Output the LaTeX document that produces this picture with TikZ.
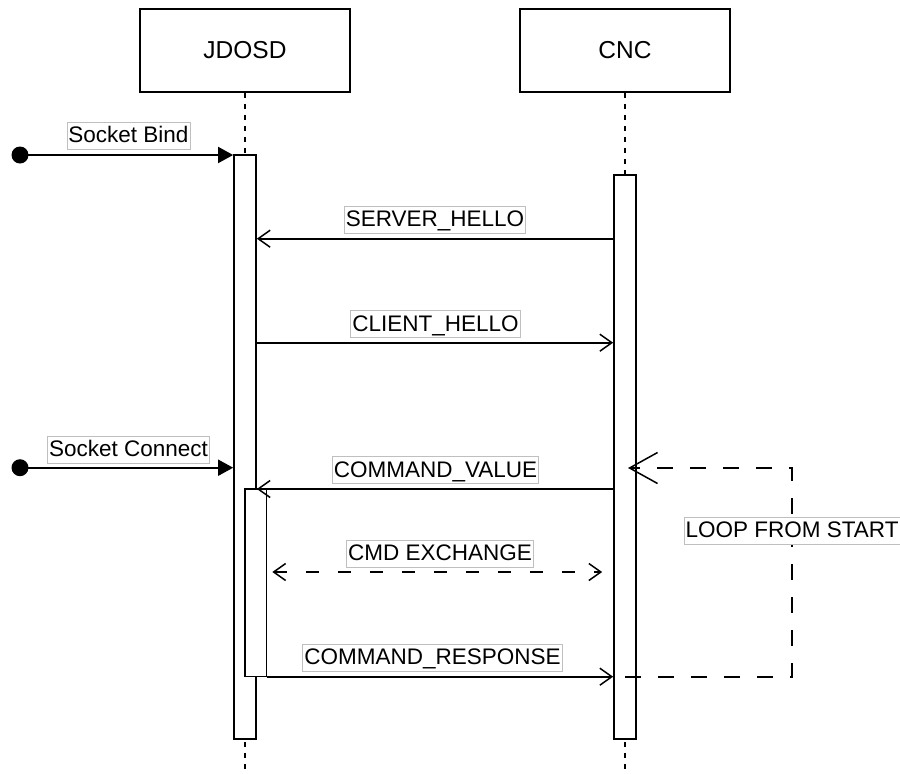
\documentclass[tikz,border=0pt]{standalone}
\usepackage{fontspec}
\setmainfont{Liberation Sans}
\usetikzlibrary{arrows.meta,calc}
\tikzset{
  every picture/.style={x=1pt,y=-1pt},
  header/.style={draw,line width=1.7pt,fill=white,minimum width=210pt,minimum height=83pt,
    inner sep=0pt,font=\fontsize{24.5}{29}\selectfont},
  actbox/.style={draw,line width=1.7pt,fill=white,inner sep=0pt,minimum width=22pt},
  lifeline/.style={line width=1.5pt,dash pattern=on 5pt off 6pt},
  lbl/.style={draw=black!25,line width=0.8pt,fill=white,inner xsep=1.5pt,inner ysep=1.5pt,
    text height=19pt,text depth=5pt,font=\fontsize{22.5}{27}\selectfont},
  dot/.style={circle,fill=black,minimum size=17pt,inner sep=0pt},
  msg/.style={line width=1.7pt,-{Straight Barb[length=12pt,width=17pt,line width=1.5pt]}},
  found/.style={line width=1.7pt,-{Triangle[length=15pt,width=16pt]}},
  exch/.style={line width=1.7pt,dash pattern=on 13pt off 19pt,
    {Straight Barb[length=12pt,width=17pt,line width=1.5pt]}-{Straight Barb[length=12pt,width=17pt,line width=1.5pt]}},
  loopline/.style={line width=1.7pt,dash pattern=on 16pt off 17pt,
    -{Straight Barb[length=28pt,width=31pt,line width=1.5pt]}}
}
\begin{document}
\begin{tikzpicture}
\useasboundingbox (0,0) rectangle (900,774);

% participants
\node[header] (jd) at (245,50.5) {JDOSD};
\node[header] (cnc) at (625,50.5) {CNC};
\coordinate (jdend) at (245,774);
\coordinate (cncend) at (625,774);

% lifelines
\draw[lifeline] (jd.south) -- (jdend);
\draw[lifeline] (cnc.south) -- (cncend);

% activation bars
\node[actbox,minimum height=584pt] (act1) at (245,447) {};
\node[actbox,minimum height=564pt] (act2) at (625,457) {};

% found messages
\node[dot] (bind) at (20,155) {};
\node[dot] (conn) at (20,467.7) {};
\draw[found] (bind.center) -- (act1.west |- bind);
\draw[found] (conn.center) -- (act1.west |- conn);

% handshake
\draw[msg] (act2.west |- 0,238.7) -- (act1.east |- 0,238.7);
\draw[msg] (act1.east |- 0,342.7) -- (act2.west |- 0,342.7);

% nested activation for the command exchange
\node[actbox,minimum width=21.5pt,minimum height=187.5pt] (act3) at (255.75,582.75) {};

\draw[msg] (act2.west |- 0,489) -- (act1.east |- 0,489);
\draw[exch,shorten <=5pt,shorten >=11pt] (act3.east |- 0,572) -- (act2.west |- 0,572);
\draw[msg] (act3.east |- 0,676.7) -- (act2.west |- 0,676.7);

% loop back to the start of the exchange
\coordinate (lp1) at (792,676.7);
\coordinate (lp2) at (792,468);
\coordinate (lptip) at (628,468);
\draw[loopline] (625,676.7) -- (lp1) -- (lp2) -- (lptip);

% labels
\node[lbl] (lbind) at (128.5,135.5) {Socket Bind};
\node[lbl] (lconn) at (128.5,449.5) {Socket Connect};
\node[lbl] (lsh) at (435,219.5) {SERVER\_HELLO};
\node[lbl] (lch) at (435.5,324) {CLIENT\_HELLO};
\node[lbl] (lcv) at (435.5,470) {COMMAND\_VALUE};
\node[lbl] (lce) at (440,553.5) {CMD EXCHANGE};
\node[lbl] (lcr) at (432.5,657.5) {COMMAND\_RESPONSE};
\node[lbl] (lloop) at (792,530.5) {LOOP FROM START};
\end{tikzpicture}
\end{document}
